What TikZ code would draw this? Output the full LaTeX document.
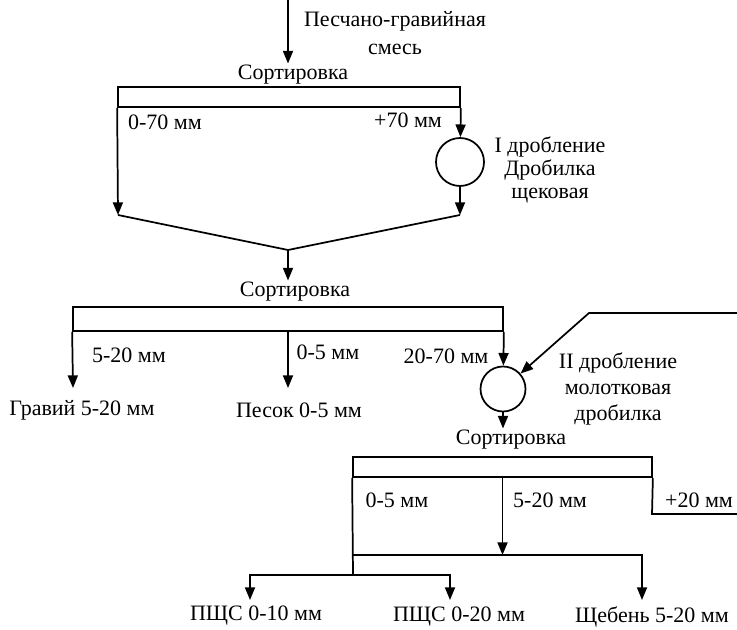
\documentclass[tikz,border=0pt]{standalone}
\usepackage{fontspec}
\setmainfont{Liberation Serif}
\usetikzlibrary{arrows.meta}

\tikzset{every picture/.style={line width=1.3pt}}
\tikzset{
  flow/.style={-{Triangle[length=9.5pt,width=7.5pt]}},
  screen/.style={draw, inner sep=0pt},
  crusher/.style={draw, circle, inner sep=0pt},
  lbl/.style={inner sep=0.75pt, font=\fontsize{16.5}{18}\selectfont, align=center},
}

\begin{document}
\begin{tikzpicture}[x=0.75pt,y=0.75pt,yscale=-1,xscale=1]
\useasboundingbox (0,0) rectangle (737,630);

%Shape: Rectangle [screens]
\node[screen, minimum width=256.5pt, minimum height=15pt] (scr1) at (289,97) {};
\node[screen, minimum width=322.5pt, minimum height=18pt] (scr2) at (288,319) {};
\node[screen, minimum width=224.25pt, minimum height=15pt] (scr3) at (502.5,467) {};
%Shape: Circle [crushers]
\node[crusher, minimum size=36pt] (cr1) at (460,162) {};
\node[crusher, minimum size=33.75pt] (cr2) at (503,389) {};

% Text Node
\node[lbl] (feed) at (395,33) {Песчано-гравийная\\[3pt]смесь};
% Text Node
\node[lbl] (sort1) at (293,75) {Сортировка};
\node[lbl] (sort2) at (295,292) {Сортировка};
\node[lbl] (sort3) at (511,440) {Сортировка};
% Text Node
\node[lbl] (f070) at (165,122) {0-70 мм};
\node[lbl] (fp70) at (408,120) {+70 мм};
\node[lbl, font=\fontsize{16.5}{17.5}\selectfont] (crA) at (550,170) {I дробление\\Дробилка\\щековая};
% Text Node
\node[lbl] (f520) at (129,355) {5-20 мм};
\node[lbl] (f05) at (328,352) {0-5 мм};
\node[lbl] (f2070) at (446,356) {20-70 мм};
\node[lbl] (gravel) at (82,410) {Гравий 5-20 мм};
\node[lbl] (sand) at (299,410) {Песок 0-5 мм};
\node[lbl, font=\fontsize{16.5}{19.5}\selectfont] (crB) at (618,389) {II дробление\\молотковая\\дробилка};
% Text Node
\node[lbl] (g05) at (397,500) {0-5 мм};
\node[lbl] (g520) at (550,500) {5-20 мм};
\node[lbl] (gp20) at (699,500) {+20 мм};
\node[lbl] (mix10) at (256,616) {ПЩС 0-10 мм};
\node[lbl] (mix20) at (459,617) {ПЩС 0-20 мм};
\node[lbl] (stone) at (652,617) {Щебень 5-20 мм};

%Straight Lines [first stage]
\coordinate (in1) at (288,0);
\coordinate (v1l) at (118,215);
\coordinate (v1r) at (460,215);
\coordinate (v1m) at (288,250);
\draw[flow] (in1) -- (in1 |- sort1.north);
\draw[flow] (scr1.south west) -- (v1l);
\draw[flow] (scr1.south east) -- (cr1);
\draw[flow] (cr1) -- (v1r);
\draw (v1l) -- (v1m) -- (v1r);
\draw[flow] (v1m) -- (v1m |- sort2.north);

%Straight Lines [second stage]
\coordinate (gr) at (73,388);
\coordinate (sd) at (288,388);
\coordinate (in2) at (737,313);
\coordinate (in2b) at (589,313);
\draw[flow] (scr2.south west) -- (gr);
\draw[flow] (scr2.south) -- (sd);
\draw[flow] (scr2.south east) -- (cr2);
\draw[flow] (in2) -- (in2b) -- (cr2);
\draw[flow] (cr2) -- (cr2 |- sort3.north);

%Straight Lines [third stage]
\coordinate (ov) at (652,514);
\coordinate (ovr) at (737,514);
\coordinate (mj) at (502.5,555);
\coordinate (mjl) at (353,555);
\coordinate (mjr) at (642,555);
\coordinate (sh) at (642,600);
\coordinate (fj) at (353,575);
\coordinate (p10) at (250,600);
\coordinate (p20) at (450,600);
\draw (scr3.south east) -- (ov) -- (ovr);
\draw[flow] (scr3.south) -- (mj);
\draw (scr3.south west) -- (fj);
\draw[flow] (mjl) -- (mjr) -- (sh);
\draw[flow] (fj) -| (p10);
\draw[flow] (fj) -| (p20);
\end{tikzpicture}
\end{document}
